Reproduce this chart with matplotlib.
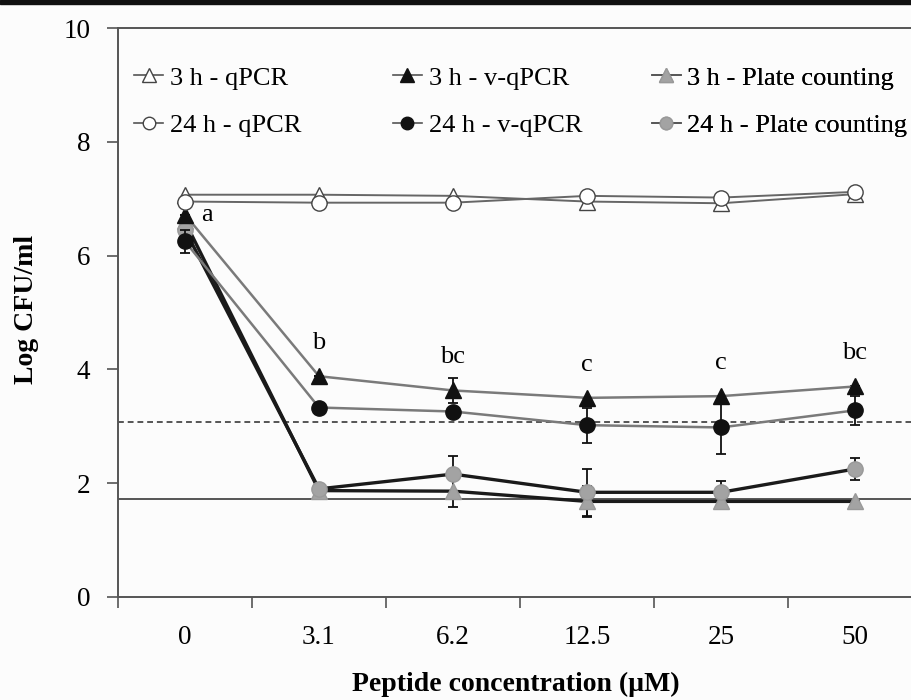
import matplotlib
matplotlib.use("Agg")
import matplotlib.pyplot as plt
from matplotlib.patches import Rectangle
from matplotlib.lines import Line2D

# =====================================
# Data
# =====================================

conc_labels = ["0", "3.1", "6.2", "12.5", "25", "50"]

qpcr_3h = [7.07, 7.07, 7.05, 6.95, 6.92, 7.08]
qpcr_24h = [6.95, 6.93, 6.93, 7.05, 7.02, 7.12]

vqpcr_3h = [6.72, 3.88, 3.63, 3.50, 3.53, 3.70]
vqpcr_24h = [6.25, 3.33, 3.26, 3.02, 2.98, 3.28]

plate_3h = [6.60, 1.87, 1.86, 1.68, 1.68, 1.68]
plate_24h = [6.45, 1.90, 2.16, 1.84, 1.84, 2.25]

vqpcr_3h_err = [0, 0, 0.22, 0, 0, 0]
vqpcr_24h_err = [0.20, 0, 0, 0.31, 0.47, 0.26]
plate_3h_err = [0, 0, 0.28, 0.27, 0, 0]
plate_24h_err = [0, 0, 0.31, 0.41, 0.19, 0.19]

letters = ["a", "b", "bc", "c", "c", "bc"]

vqpcr_limit = 3.07
plate_limit = 1.72

# =====================================
# Figure
# =====================================

plt.rcParams["font.family"] = ["Liberation Serif", "DejaVu Serif"]

fig = plt.figure(figsize=(9.12, 7.0), dpi=100, facecolor="#fcfcfc")
ax = fig.add_axes([118 / 912, 1 - 597 / 700, 804 / 912, 569 / 700])
ax.set_facecolor("#fcfcfc")

# dark strip along the top edge
fig.patches.append(Rectangle((0, 1 - 4 / 700), 1, 4 / 700,
                             transform=fig.transFigure, color="#111111"))

x = list(range(len(conc_labels)))

ax.axhline(vqpcr_limit, color="#555555", lw=1.4, ls=(0, (3, 2)), zorder=1)
ax.axhline(plate_limit, color="#555555", lw=1.4, zorder=1)

err_style = dict(ecolor="#111111", elinewidth=1.3, capsize=3.5, capthick=1.3)

# series style: (face colour, edge colour, line colour, line width)
open_style = ("white", "#444444", "#666666", 1.4)
viable_style = ("#111111", "#111111", "#7a7a7a", 1.8)
plate_style = ("#a3a3a3", "#999999", "#1a1a1a", 2.4)

# plate counting
ax.errorbar(x, plate_3h, yerr=plate_3h_err, color=plate_style[2],
            lw=plate_style[3], marker="^", ms=12, mfc=plate_style[0],
            mec=plate_style[1], zorder=3, **err_style)
ax.errorbar(x, plate_24h, yerr=plate_24h_err, color=plate_style[2],
            lw=plate_style[3], marker="o", ms=11, mfc=plate_style[0],
            mec=plate_style[1], zorder=3, **err_style)

# v-qPCR
ax.errorbar(x, vqpcr_3h, yerr=vqpcr_3h_err, color=viable_style[2],
            lw=viable_style[3], marker="^", ms=12, mfc=viable_style[0],
            mec=viable_style[1], zorder=4, **err_style)
ax.errorbar(x, vqpcr_24h, yerr=vqpcr_24h_err, color=viable_style[2],
            lw=viable_style[3], marker="o", ms=11, mfc=viable_style[0],
            mec=viable_style[1], zorder=4, **err_style)

# qPCR
ax.plot(x, qpcr_3h, color=open_style[2], lw=open_style[3], marker="^",
        ms=12, mfc=open_style[0], mec=open_style[1], mew=1.0, zorder=5)
ax.plot(x, qpcr_24h, color=open_style[2], lw=open_style[3], marker="o",
        ms=11, mfc=open_style[0], mec=open_style[1], mew=1.0, zorder=5)

# significance letters
for i, letter in enumerate(letters):
    if i == 0:
        ax.text(i + 0.165, vqpcr_3h[i], letter, ha="center", va="center",
                fontsize=19)
    else:
        ax.text(i, vqpcr_3h[i] + 0.58, letter, ha="center", va="center",
                fontsize=19)

# =====================================
# Axes
# =====================================

ax.set_xlim(-0.5, 5.5)
ax.set_ylim(0, 10)
ax.set_yticks([0, 2, 4, 6, 8, 10])

ax.set_xticks([i - 0.5 for i in range(len(conc_labels) + 1)])
ax.set_xticklabels([])
ax.set_xticks(x, minor=True)
ax.set_xticklabels(conc_labels, minor=True)

ax.tick_params(axis="both", which="major", direction="out", length=8,
               width=1.2, color="#555555", labelsize=19.5, pad=12)
ax.tick_params(axis="x", which="minor", length=0, labelsize=19.5, pad=20)

for side in ["left", "bottom", "top", "right"]:
    ax.spines[side].set_color("#555555")
    ax.spines[side].set_linewidth(1.4)

fig.text(516 / 912, 1 - 684 / 700, "Peptide concentration (µM)",
         ha="center", va="center", fontsize=20, fontweight="bold")
fig.text(27 / 912, 1 - 309 / 700, "Log CFU/ml", rotation=90,
         ha="center", va="center", fontsize=20, fontweight="bold")

# =====================================
# Legend, one column per method
# =====================================

def proxy(style, marker):
    return Line2D([], [], color="#555555", lw=1.2, marker=marker,
                  ms=10 if marker == "^" else 9, mfc=style[0], mec=style[1])

columns = [
    (0.02, open_style, ["3 h - qPCR", "24 h - qPCR"]),
    (0.342, viable_style, ["3 h - v-qPCR", "24 h - v-qPCR"]),
    (0.664, plate_style, ["3 h - Plate counting", "24 h - Plate counting"]),
]
for x0, style, names in columns:
    leg = ax.legend([proxy(style, "^"), proxy(style, "o")], names,
                    loc="upper left", bbox_to_anchor=(x0, 0.933),
                    frameon=False, fontsize=19, handlelength=1.1,
                    handletextpad=0.25, borderpad=0, borderaxespad=0,
                    labelspacing=0.9)
    ax.add_artist(leg)

fig.savefig("out.png", dpi=100, facecolor=fig.get_facecolor())
